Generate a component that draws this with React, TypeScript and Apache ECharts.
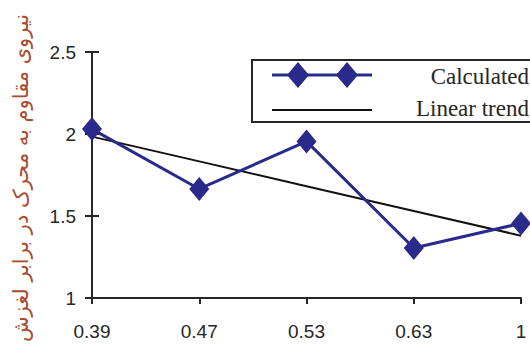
import React, { useEffect, useRef } from "react";
import * as echarts from "echarts";

const categories = ["0.39", "0.47", "0.53", "0.63", "1"];
const calculated = [2.03, 1.665, 1.955, 1.305, 1.455];
const yTicks = { min: 1, max: 2.5, interval: 0.5 };
const yTitle = "نیروی مقاوم به محرک در برابر لغزش";
const legendNames = ["Calculated", "Linear trend"];

const NAVY = "#2a2a8c";
const INK = "#262626";

// least-squares trend over the category positions
function trendLine(values: number[]): number[] {
  const n = values.length;
  const xs = values.map((_, i) => i + 1);
  const mx = xs.reduce((a, b) => a + b, 0) / n;
  const my = values.reduce((a, b) => a + b, 0) / n;
  let num = 0;
  let den = 0;
  xs.forEach((x, i) => {
    num += (x - mx) * (values[i] - my);
    den += (x - mx) * (x - mx);
  });
  const slope = num / den;
  return xs.map((x) => my + slope * (x - mx));
}

const trend = trendLine(calculated);

function diamond(cx: number, cy: number, rx: number, ry: number) {
  return {
    type: "polygon",
    shape: { points: [[cx, cy - ry], [cx + rx, cy], [cx, cy + ry], [cx - rx, cy]] },
    style: { fill: NAVY },
  };
}

export default function App() {
  const ref = useRef<HTMLDivElement>(null);
  useEffect(() => {
    const chart = echarts.init(ref.current!, null, { renderer: "svg" });
    const axisFont = {
      fontFamily: "Liberation Sans, Arial",
      fontSize: 19,
      color: INK,
    };
    chart.setOption({
      animation: false,
      backgroundColor: "#fff",
      grid: { left: 92, right: 9, top: 52, bottom: 59 },
      xAxis: {
        type: "category",
        data: categories,
        boundaryGap: false,
        axisLine: { lineStyle: { color: INK, width: 2 } },
        axisTick: { show: true, length: 6, alignWithLabel: true, lineStyle: { color: INK, width: 2 } },
        axisLabel: { ...axisFont, margin: 24 },
        splitLine: { show: false },
      },
      yAxis: [
        {
          type: "value",
          ...yTicks,
          axisLine: { show: true, lineStyle: { color: INK, width: 2 } },
          axisTick: { show: true, length: 7, lineStyle: { color: INK, width: 2 } },
          axisLabel: { ...axisFont, margin: 16 },
          splitLine: { show: false },
        },
        {
          type: "value",
          position: "left",
          ...yTicks,
          axisLine: { show: false },
          axisTick: { show: true, inside: true, length: 7, lineStyle: { color: INK, width: 2 } },
          axisLabel: { show: false },
          splitLine: { show: false },
        },
      ],
      series: [
        {
          name: legendNames[1],
          type: "line",
          data: trend,
          symbol: "none",
          lineStyle: { color: "#111", width: 2 },
          z: 2,
        },
        {
          name: legendNames[0],
          type: "line",
          data: calculated,
          symbol: "diamond",
          symbolSize: [20, 24],
          itemStyle: { color: NAVY },
          lineStyle: { color: NAVY, width: 3 },
          z: 3,
        },
      ],
      graphic: [
        {
          type: "text",
          x: 21,
          y: 178,
          rotation: Math.PI / 2,
          style: {
            text: yTitle,
            fontFamily: "DejaVu Sans",
            fontSize: 21,
            fill: "#a94b30",
            align: "center",
            verticalAlign: "middle",
          },
        },
        {
          type: "rect",
          shape: { x: 252, y: 60, width: 290, height: 62 },
          style: { fill: "#fff", stroke: INK, lineWidth: 2 },
          z: 10,
        },
        {
          type: "line",
          shape: { x1: 272, y1: 75, x2: 372, y2: 75 },
          style: { stroke: NAVY, lineWidth: 3 },
          z: 11,
        },
        { ...diamond(298, 75, 11, 13), z: 11 },
        { ...diamond(347, 75, 11, 13), z: 11 },
        {
          type: "line",
          shape: { x1: 272, y1: 110, x2: 372, y2: 110 },
          style: { stroke: "#111", lineWidth: 2 },
          z: 11,
        },
        {
          type: "text",
          x: 529,
          y: 76,
          style: {
            text: legendNames[0],
            fontFamily: "Liberation Serif",
            fontSize: 23,
            fill: INK,
            align: "right",
            verticalAlign: "middle",
          },
          z: 11,
        },
        {
          type: "text",
          x: 529,
          y: 108,
          style: {
            text: legendNames[1],
            fontFamily: "Liberation Serif",
            fontSize: 23,
            fill: INK,
            align: "right",
            verticalAlign: "middle",
          },
          z: 11,
        },
      ],
    });
    return () => chart.dispose();
  }, []);
  return <div ref={ref} style={{ width: 530, height: 357, position: "absolute", left: 0, top: 0 }} />;
}
